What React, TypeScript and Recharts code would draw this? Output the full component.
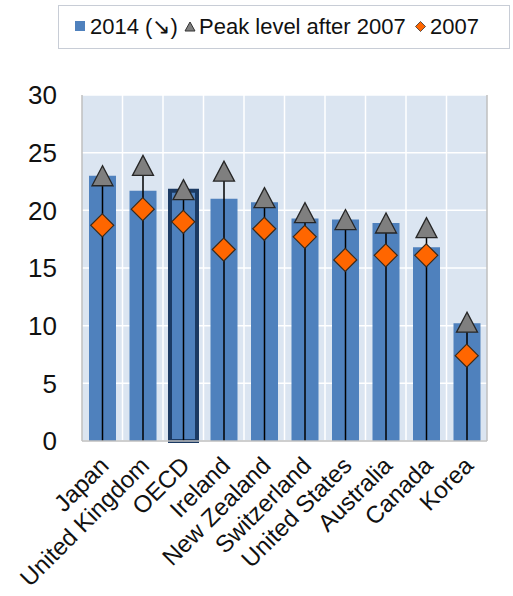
import React from 'react';
import { ComposedChart, Bar, Line, XAxis, YAxis, CartesianGrid, Cell } from 'recharts';

const categories = ['Japan', 'United Kingdom', 'OECD', 'Ireland', 'New Zealand', 'Switzerland', 'United States', 'Australia', 'Canada', 'Korea'];
const values2014 = [23.0, 21.7, 21.7, 21.0, 20.7, 19.3, 19.2, 18.9, 16.8, 10.2];
const peakAfter2007 = [23.0, 23.9, 21.8, 23.4, 21.1, 19.8, 19.2, 18.9, 18.5, 10.3];
const values2007 = [18.7, 20.1, 19.0, 16.6, 18.4, 17.7, 15.7, 16.1, 16.1, 7.4];
const yTicks = [0, 5, 10, 15, 20, 25, 30];
const highlighted = 'OECD';

const data = categories.map((name, i) => ({
  name,
  v2014: values2014[i],
  peak: peakAfter2007[i],
  v2007: values2007[i],
}));

const FONT = '"Liberation Sans", Arial, sans-serif';
const BLUE = '#4F81BD';
const ORANGE = '#FF6600';
const GRAY = '#7F7F7F';

const PeakShape = (props: any) => {
  const { x, y, width, height } = props;
  const cx = x + width / 2;
  return (
    <g>
      <line x1={cx} y1={y} x2={cx} y2={y + height} stroke="#000" strokeWidth={1.5} />
      <polygon
        points={`${cx},${y - 10} ${cx - 10.5},${y + 10} ${cx + 10.5},${y + 10}`}
        fill={GRAY}
        stroke="#262626"
        strokeWidth={1.3}
      />
    </g>
  );
};

const Diamond = (props: any) => {
  const { cx, cy, index } = props;
  if (cx == null || cy == null) return <g key={index} />;
  const s = 11.5;
  return (
    <polygon
      key={index}
      points={`${cx},${cy - s} ${cx + s},${cy} ${cx},${cy + s} ${cx - s},${cy}`}
      fill={ORANGE}
      stroke="#3a2a1a"
      strokeWidth={1.2}
    />
  );
};

const XTick = (props: any) => {
  const { x, y, payload } = props;
  const tx = x + 8;
  const ty = y + 24;
  return (
    <text
      x={tx}
      y={ty}
      transform={`rotate(-45, ${tx}, ${ty})`}
      textAnchor="end"
      fontSize={24}
      fontFamily={FONT}
      fill="#111"
    >
      {payload.value}
    </text>
  );
};

const legendText: React.CSSProperties = {
  position: 'absolute',
  top: 0,
  height: 42,
  lineHeight: '42px',
  fontSize: 22,
};

const LegendBox = () => (
  <div
    style={{
      position: 'absolute',
      left: 58,
      top: 5,
      width: 452,
      height: 44,
      border: '1.5px solid #C8CDD6',
      background: '#fff',
      boxSizing: 'border-box',
      fontFamily: FONT,
      color: '#111',
      whiteSpace: 'nowrap',
    }}
  >
    <svg width={11} height={11} style={{ position: 'absolute', left: 16, top: 15 }}>
      <rect x={0} y={0} width={10} height={10} fill={BLUE} />
    </svg>
    <span style={{ ...legendText, left: 31 }}>2014 (↘)</span>
    <svg width={12} height={11} style={{ position: 'absolute', left: 125, top: 15 }}>
      <polygon points="6,1 11,10 1,10" fill={GRAY} stroke="#333" strokeWidth={1} />
    </svg>
    <span style={{ ...legendText, left: 140 }}>Peak level after 2007</span>
    <svg width={11} height={11} style={{ position: 'absolute', left: 356, top: 15 }}>
      <polygon points="5.5,0.5 10.5,5.5 5.5,10.5 0.5,5.5" fill={ORANGE} stroke="#333" strokeWidth={0.8} />
    </svg>
    <span style={{ ...legendText, left: 371 }}>2007</span>
  </div>
);

export default function App() {
  return (
    <div style={{ position: 'absolute', left: 0, top: 0, width: 513, height: 596, background: '#fff' }}>
      <ComposedChart
        width={513}
        height={596}
        data={data}
        margin={{ top: 95, right: 0, left: 0, bottom: 0 }}
      >
        <CartesianGrid
          fill="#DBE5F1"
          stroke="#FFFFFF"
          strokeWidth={1.5}
          yAxisId="left"
          xAxisId="main"
          verticalCoordinatesGenerator={(p: any) => {
            const off = p.offset || p;
            return categories.map((_, i) => off.left + (i * off.width) / categories.length).slice(1);
          }}
        />
        <XAxis
          xAxisId="main"
          dataKey="name"
          height={155}
          interval={0}
          tickLine={false}
          tickSize={0}
          axisLine={{ stroke: '#BFBFBF', strokeWidth: 1.5 }}
          tick={<XTick />}
        />
        <XAxis
          xAxisId="top"
          dataKey="name"
          orientation="top"
          height={0}
          tick={false}
          tickLine={false}
          axisLine={{ stroke: '#BFBFBF', strokeWidth: 1.5 }}
        />
        <YAxis
          yAxisId="left"
          width={82}
          domain={[0, 30]}
          ticks={yTicks}
          interval={0}
          tickLine={false}
          tickSize={0}
          tickMargin={25}
          axisLine={{ stroke: '#BFBFBF', strokeWidth: 1.5 }}
          tick={{ fontSize: 26, fontFamily: FONT, fill: '#111' }}
        />
        <YAxis
          yAxisId="right"
          orientation="right"
          width={26}
          domain={[0, 30]}
          ticks={[]}
          tick={false}
          tickLine={false}
          axisLine={{ stroke: '#BFBFBF', strokeWidth: 1.5 }}
        />
        <Bar
          dataKey="v2014"
          name="2014 (↘)"
          xAxisId="main"
          yAxisId="left"
          barSize={27}
          fill={BLUE}
          isAnimationActive={false}
        >
          {data.map((d) => (
            <Cell
              key={d.name}
              fill={BLUE}
              stroke={d.name === highlighted ? '#1B3A63' : 'none'}
              strokeWidth={d.name === highlighted ? 4 : 0}
            />
          ))}
        </Bar>
        <Bar
          dataKey="peak"
          name="Peak level after 2007"
          xAxisId="top"
          yAxisId="left"
          barSize={27}
          fill="none"
          shape={<PeakShape />}
          isAnimationActive={false}
        />
        <Line
          dataKey="v2007"
          name="2007"
          xAxisId="main"
          yAxisId="left"
          stroke="none"
          dot={(p: any) => <Diamond {...p} key={p.index} />}
          activeDot={false}
          isAnimationActive={false}
        />
      </ComposedChart>
      <LegendBox />
    </div>
  );
}
